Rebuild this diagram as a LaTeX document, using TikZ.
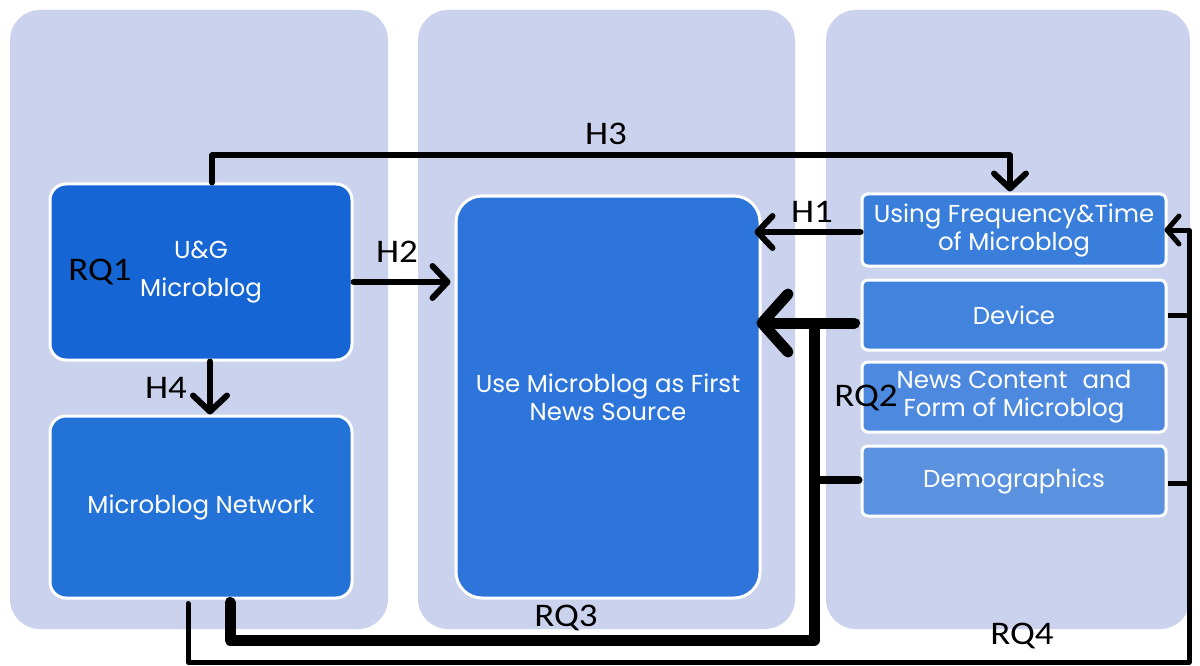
\documentclass[tikz,border=0pt]{standalone}
\usepackage{fontspec}
\setmainfont{Poppins}
\newfontfamily\labfont[FakeStretch=1.12]{Carlito}
\usetikzlibrary{arrows.meta}
\definecolor{panel}{HTML}{CBD2EE}
\definecolor{cug}{HTML}{1565D5}
\definecolor{cnet}{HTML}{2272D8}
\definecolor{cuse}{HTML}{2E75DB}
\definecolor{cfreq}{HTML}{3A7EDC}
\definecolor{cdev}{HTML}{4283DD}
\definecolor{cnews}{HTML}{4D89DF}
\definecolor{cdemo}{HTML}{5A92E0}
\tikzset{
  panelbox/.style={fill=panel, rounded corners=30pt},
  bluebox/.style={draw=white, line width=3pt, rounded corners=#1, inner sep=0pt,
    text=white, align=center, font=\fontsize{24.5}{28}\selectfont},
  lab/.style={font=\labfont\fontsize{33}{33}\selectfont, inner sep=0pt},
  hline/.style={line width=6pt, line cap=round, line join=round},
  chev/.tip={Straight Barb[length=15pt, width=32pt, line cap=round, line join=round]},
  bigchev/.tip={Straight Barb[length=26pt, width=58pt, line cap=round, line join=round]},
}
\begin{document}
\begin{tikzpicture}[x=1pt, y=-1pt]
\useasboundingbox (0,0) rectangle (1200,666);
\fill[white] (0,0) rectangle (1200,666);
% panels
\path[panelbox] (10,10) rectangle (388,629);
\path[panelbox] (418,10) rectangle (795,629);
\path[panelbox] (826,10) rectangle (1190,629);
% boxes
\node[bluebox=16pt, fill=cug, minimum width=302pt, minimum height=176pt,
  font=\fontsize{24.5}{38}\selectfont] (ug) at (201,272) {U\&G\\Microblog};
\node[bluebox=16pt, fill=cnet, minimum width=302pt, minimum height=182pt] (net) at (201,507) {Microblog Network};
\node[bluebox=26pt, fill=cuse, minimum width=304pt, minimum height=402pt] (use) at (608,397) {Use Microblog as First\\News Source};
\node[bluebox=6pt, fill=cfreq, minimum width=304pt, minimum height=72pt] (freq) at (1014,230) {Using Frequency\&Time\\of Microblog};
\node[bluebox=6pt, fill=cdev, minimum width=304pt, minimum height=70pt] (dev) at (1014,315) {Device};
\node[bluebox=6pt, fill=cnews, minimum width=304pt, minimum height=70pt] (news) at (1014,397) {News Content\hspace{0.35em} and\\Form of Microblog};
\node[bluebox=6pt, fill=cdemo, minimum width=304pt, minimum height=70pt] (demo) at (1014,481) {Demographics};
% labels
\node[lab] (lh3) at (606,134) {H3};
\node[lab] (lh1) at (812,212) {H1};
\node[lab] (lh2) at (397,252) {H2};
\node[lab] (lrq1) at (100,272) {RQ1};
\node[lab] (lh4) at (166,388) {H4};
\node[lab] (lrq2) at (866,398) {RQ2};
\node[lab] (lrq3) at (566,618) {RQ3};
\node[lab] (lrq4) at (1022,636) {RQ4};
% coordinates
\coordinate (rq3c) at (814,640);
\coordinate (rq4c) at (1189,662);
% H3
\draw[hline, -{chev}] ([xshift=11pt]ug.north) -- ++(0,-27) -| ([xshift=-4pt,yshift=1pt]freq.north);
% H1
\draw[hline, -{chev}, shorten >=-7pt] ([yshift=-2pt]freq.west) -- ([yshift=-2pt]freq.west -| use.east);
% H2
\draw[hline, -{chev}, shorten >=4pt] ([yshift=-10pt]ug.east) -- ([yshift=-10pt]ug.east -| use.west);
% H4
\draw[hline, -{chev[length=16pt,width=34pt]}] ([xshift=9pt]ug.south) -- ([xshift=9pt]net.north);
% RQ3 thick
\draw[line width=11pt, line cap=round, line join=round, -{bigchev}, shorten >=-5pt]
  ([xshift=29pt,yshift=-3pt]net.south) |- (rq3c) -- ([yshift=-8pt]dev.west -| rq3c) -- ([yshift=-8pt]dev.west -| use.east);
\draw[line width=11pt, line cap=round] ([xshift=-6pt,yshift=-8pt]dev.west) -- ([yshift=-8pt]dev.west -| rq3c);
\draw[line width=8pt, line cap=round] ([xshift=-2pt,yshift=1pt]demo.west) -- ([yshift=1pt]demo.west -| rq3c);
% RQ4 thin
\draw[line width=5pt, line cap=round, line join=round, -{chev[length=12pt,width=28pt]}, shorten >=-3pt]
  ([xshift=-13pt,yshift=-4pt]net.south) |- (rq4c) -- (rq4c |- freq.east) -- (freq.east);
\draw[line width=5pt] (dev.east) -- (dev.east -| rq4c);
\draw[line width=5pt] ([yshift=-2pt]demo.east) -- ([yshift=-2pt]demo.east -| rq4c);
\end{tikzpicture}
\end{document}
